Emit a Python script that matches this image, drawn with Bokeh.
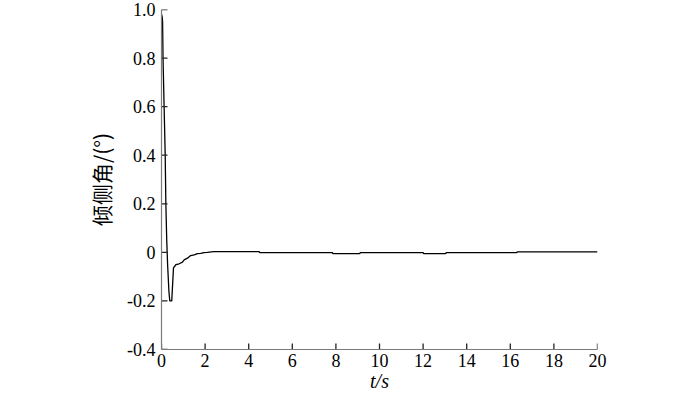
from bokeh.plotting import figure
from bokeh.models import Range1d, FixedTicker, CustomJSTickFormatter
from bokeh.embed import file_html
from bokeh.resources import INLINE

# time (s) and bank angle (deg)
time_s = [0.0, 0.03, 0.05, 0.07, 0.12, 0.17, 0.20, 0.24, 0.28, 0.34, 0.38, 0.47, 0.55,
          0.66, 0.81, 0.96, 1.04, 1.19, 1.34, 1.50, 1.65, 1.80, 1.95, 2.10, 2.40,
          4.48, 4.50, 7.84, 7.86, 9.10, 9.12, 12.00, 12.02, 13.04, 13.06, 16.30, 16.32, 20.0]
bank_deg = [0.98, 0.97, 0.95, 0.80, 0.60, 0.40, 0.20, 0.05, -0.05, -0.16, -0.20, -0.20, -0.064,
            -0.051, -0.047, -0.040, -0.031, -0.024, -0.013, -0.010, -0.005, -0.004, -0.001, 0.000, 0.003,
            0.003, -0.001, -0.001, -0.005, -0.005, -0.001, -0.001, -0.005, -0.005, -0.001, -0.001, 0.002, 0.002]

x_ticks = [0, 2, 4, 6, 8, 10, 12, 14, 16, 18, 20]
y_ticks = [-0.4, -0.2, 0, 0.2, 0.4, 0.6, 0.8, 1.0]
X_MIN, X_MAX = 0, 20
Y_MIN, Y_MAX = -0.4, 1.0

FONT = "Liberation Serif"
W, H = 700, 398
LEFT, RIGHT, TOP, BOTTOM = 161, 103, 9, 49

p = figure(width=W, height=H, output_backend="svg", toolbar_location=None,
           x_range=Range1d(X_MIN, X_MAX), y_range=Range1d(Y_MIN, Y_MAX),
           min_border_left=LEFT, min_border_right=RIGHT, min_border_top=TOP, min_border_bottom=BOTTOM)
p.outline_line_color = None
p.grid.visible = False
p.background_fill_color = "white"
p.border_fill_color = "white"

p.line(time_s, bank_deg, line_color="black", line_width=1.3)

# inward tick marks (6 px long), drawn from the tick lists
frame_w = W - LEFT - RIGHT
frame_h = H - TOP - BOTTOM
tick_dy = 6 * (Y_MAX - Y_MIN) / frame_h
tick_dx = 6 * (X_MAX - X_MIN) / frame_w
p.segment(x0=x_ticks, y0=[Y_MIN] * len(x_ticks), x1=x_ticks, y1=[Y_MIN + tick_dy] * len(x_ticks),
          line_color="#222222", line_width=1.3)
p.segment(x0=[X_MIN] * len(y_ticks), y0=y_ticks, x1=[X_MIN + tick_dx] * len(y_ticks), y1=y_ticks,
          line_color="#222222", line_width=1.3)

for ax, ticks in ((p.xaxis[0], x_ticks), (p.yaxis[0], y_ticks)):
    ax.ticker = FixedTicker(ticks=ticks)
    ax.major_tick_in = 0
    ax.major_tick_out = 0
    ax.minor_tick_line_color = None
    ax.axis_line_color = "#7a7a7a"
    ax.axis_line_width = 1.2
    ax.major_label_text_font = FONT
    ax.major_label_text_font_size = "18px"
    ax.major_label_text_color = "black"

p.yaxis[0].formatter = CustomJSTickFormatter(code="return Math.abs(tick) < 1e-9 ? '0' : tick.toFixed(1);")
p.yaxis[0].major_label_standoff = 6
p.xaxis[0].major_label_standoff = 4

p.yaxis[0].axis_label = "倾侧角/(°)"
p.yaxis[0].axis_label_text_font = "Noto Sans CJK SC"
p.yaxis[0].axis_label_text_font_style = "normal"
p.yaxis[0].axis_label_text_font_size = "21px"
p.yaxis[0].axis_label_text_color = "black"
p.yaxis[0].axis_label_standoff = 8

p.xaxis[0].axis_label = "t/s"
p.xaxis[0].axis_label_text_font = FONT
p.xaxis[0].axis_label_text_font_style = "italic"
p.xaxis[0].axis_label_text_font_size = "20px"
p.xaxis[0].axis_label_text_color = "black"
p.xaxis[0].axis_label_standoff = 0

open("out.html", "w").write(file_html(p, INLINE))
